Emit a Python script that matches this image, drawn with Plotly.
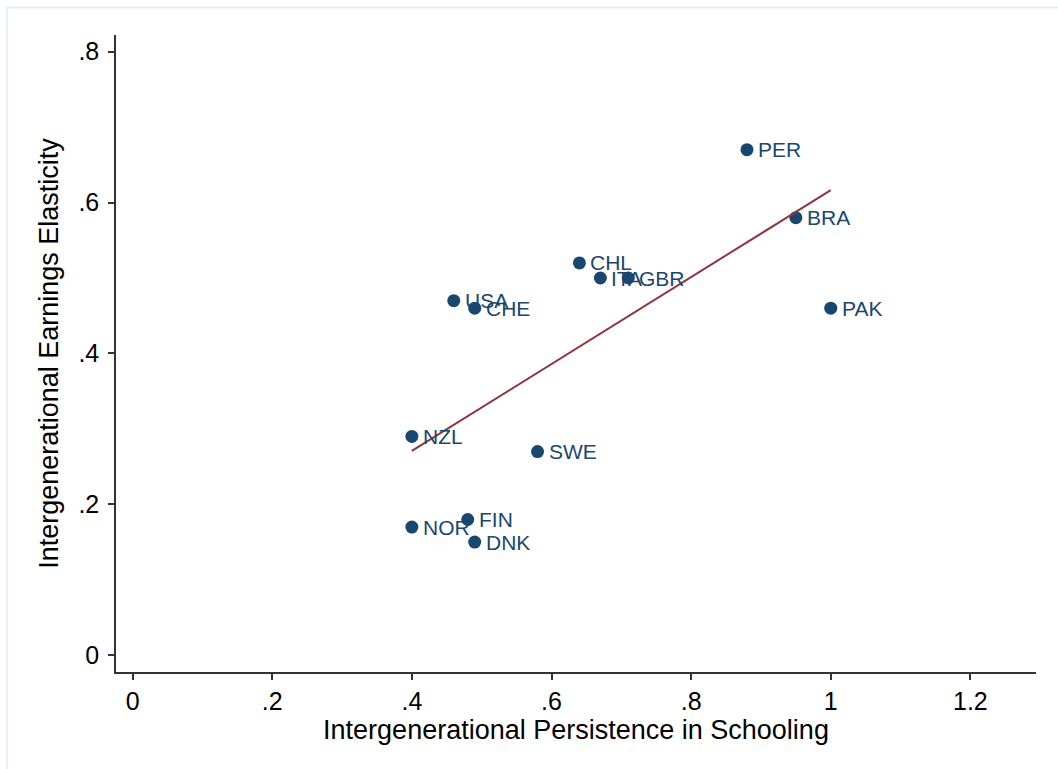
import numpy as np
import plotly.graph_objects as go

# Country-level intergenerational mobility measures
countries = ["PER", "BRA", "PAK", "CHL", "ITA", "GBR", "USA", "CHE",
             "NZL", "SWE", "FIN", "NOR", "DNK"]
schooling = [0.88, 0.95, 1.00, 0.64, 0.67, 0.71, 0.46, 0.49,
             0.40, 0.58, 0.48, 0.40, 0.49]
earnings = [0.67, 0.58, 0.46, 0.52, 0.50, 0.50, 0.47, 0.46,
            0.29, 0.27, 0.18, 0.17, 0.15]

x_ticks = [0, 0.2, 0.4, 0.6, 0.8, 1.0, 1.2]
x_tick_text = ["0", ".2", ".4", ".6", ".8", "1", "1.2"]
y_ticks = [0, 0.2, 0.4, 0.6, 0.8]
y_tick_text = ["0", ".2", ".4", ".6", ".8"]

NAVY = "#1a476f"
MAROON = "#90353b"
FONT = "Liberation Sans, Arial, sans-serif"

# Linear fit over the observed range
slope, intercept = np.polyfit(schooling, earnings, 1)
fit_x = np.array([min(schooling), max(schooling)])
fit_y = intercept + slope * fit_x

fig = go.Figure()
fig.add_trace(go.Scatter(
    x=schooling, y=earnings, mode="markers",
    marker=dict(color=NAVY, size=13),
    cliponaxis=False, showlegend=False,
))
fig.add_trace(go.Scatter(
    x=fit_x, y=fit_y, mode="lines",
    line=dict(color=MAROON, width=2), showlegend=False,
))

# Country codes to the right of each marker
for name, xv, yv in zip(countries, schooling, earnings):
    fig.add_annotation(
        x=xv, y=yv, text=name, showarrow=False,
        xanchor="left", yanchor="middle", xshift=9, yshift=0,
        font=dict(family=FONT, size=21, color=NAVY),
    )

axis_common = dict(
    showgrid=False, zeroline=False, showline=True, linecolor="#333333",
    linewidth=1.5, ticks="outside", ticklen=6, tickcolor="#333333",
    tickwidth=1.5, tickfont=dict(family=FONT, size=25, color="black"),
)
fig.update_xaxes(
    range=[-0.0238, 1.294], tickvals=x_ticks, ticktext=x_tick_text,
    title=dict(text="Intergenerational Persistence in Schooling",
               font=dict(family=FONT, size=27, color="black"), standoff=0),
    **axis_common,
)
fig.update_yaxes(
    range=[-0.0221, 0.822], tickvals=y_ticks, ticktext=y_tick_text,
    ticklabelstandoff=4,
    title=dict(text="Intergenerational Earnings Elasticity",
               font=dict(family=FONT, size=27, color="black"), standoff=12),
    **axis_common,
)

# Light frame around the graph region
fig.add_shape(type="rect", xref="paper", yref="paper",
              x0=-0.1187, x1=1.06, y0=-0.2, y1=1.0432,
              line=dict(color="#e6eef4", width=2), layer="below")

fig.update_layout(
    width=1058, height=769,
    margin=dict(l=115.7, r=22.3, t=35, b=97.3),
    paper_bgcolor="white", plot_bgcolor="white",
    font=dict(family=FONT),
)

fig.write_html("out.html")
